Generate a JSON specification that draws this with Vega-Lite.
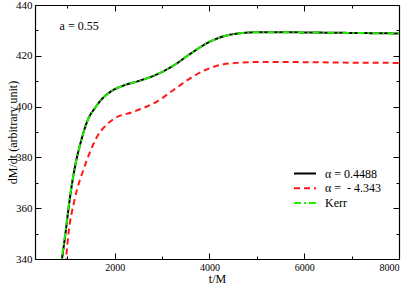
{
  "$schema": "https://vega.github.io/schema/vega-lite/v6.json",
  "width": 364,
  "height": 254,
  "autosize": {"type": "none"},
  "padding": {"left": 35, "top": 5, "right": 10, "bottom": 25},
  "background": "white",
  "config": {
    "view": {"stroke": null},
    "font": "Liberation Serif",
    "axis": {
      "domainColor": "#000000",
      "domainWidth": 1.2,
      "tickColor": "#000000",
      "tickWidth": 1,
      "labelColor": "#000000",
      "titleColor": "#000000",
      "labelFont": "Liberation Serif",
      "titleFont": "Liberation Serif",
      "titleFontWeight": "normal",
      "grid": false
    }
  },
  "datasets": {
    "curves": [
      {"series": "α = 0.4488", "t": 810, "v": 330},
      {"series": "α = 0.4488", "t": 889, "v": 340},
      {"series": "α = 0.4488", "t": 962, "v": 350},
      {"series": "α = 0.4488", "t": 1045, "v": 362.5},
      {"series": "α = 0.4488", "t": 1160, "v": 376},
      {"series": "α = 0.4488", "t": 1285, "v": 386},
      {"series": "α = 0.4488", "t": 1451, "v": 395.5},
      {"series": "α = 0.4488", "t": 1580, "v": 399.3},
      {"series": "α = 0.4488", "t": 1700, "v": 402.3},
      {"series": "α = 0.4488", "t": 1909, "v": 405.8},
      {"series": "α = 0.4488", "t": 2190, "v": 408.3},
      {"series": "α = 0.4488", "t": 2543, "v": 410.3},
      {"series": "α = 0.4488", "t": 2895, "v": 412.7},
      {"series": "α = 0.4488", "t": 3246, "v": 416.2},
      {"series": "α = 0.4488", "t": 3599, "v": 420.8},
      {"series": "α = 0.4488", "t": 3951, "v": 425.0},
      {"series": "α = 0.4488", "t": 4302, "v": 427.7},
      {"series": "α = 0.4488", "t": 4655, "v": 428.9},
      {"series": "α = 0.4488", "t": 5077, "v": 429.3},
      {"series": "α = 0.4488", "t": 5500, "v": 429.3},
      {"series": "α = 0.4488", "t": 6000, "v": 429.2},
      {"series": "α = 0.4488", "t": 7000, "v": 429.0},
      {"series": "α = 0.4488", "t": 8000, "v": 428.8},
      {"series": "α = \u00a0- 4.343", "t": 925, "v": 330},
      {"series": "α = \u00a0- 4.343", "t": 974, "v": 340},
      {"series": "α = \u00a0- 4.343", "t": 1028, "v": 350.2},
      {"series": "α = \u00a0- 4.343", "t": 1155, "v": 363.3},
      {"series": "α = \u00a0- 4.343", "t": 1366, "v": 376.4},
      {"series": "α = \u00a0- 4.343", "t": 1500, "v": 383},
      {"series": "α = \u00a0- 4.343", "t": 1640, "v": 388.5},
      {"series": "α = \u00a0- 4.343", "t": 1800, "v": 392.3},
      {"series": "α = \u00a0- 4.343", "t": 1979, "v": 395.1},
      {"series": "α = \u00a0- 4.343", "t": 2401, "v": 398},
      {"series": "α = \u00a0- 4.343", "t": 2895, "v": 402},
      {"series": "α = \u00a0- 4.343", "t": 3246, "v": 406.6},
      {"series": "α = \u00a0- 4.343", "t": 3599, "v": 411.2},
      {"series": "α = \u00a0- 4.343", "t": 3951, "v": 414.7},
      {"series": "α = \u00a0- 4.343", "t": 4302, "v": 416.7},
      {"series": "α = \u00a0- 4.343", "t": 4655, "v": 417.3},
      {"series": "α = \u00a0- 4.343", "t": 5077, "v": 417.6},
      {"series": "α = \u00a0- 4.343", "t": 5500, "v": 417.6},
      {"series": "α = \u00a0- 4.343", "t": 6000, "v": 417.5},
      {"series": "α = \u00a0- 4.343", "t": 7000, "v": 417.3},
      {"series": "α = \u00a0- 4.343", "t": 8000, "v": 417.2},
      {"series": "Kerr", "t": 800, "v": 330},
      {"series": "Kerr", "t": 882, "v": 340},
      {"series": "Kerr", "t": 958, "v": 350},
      {"series": "Kerr", "t": 1043, "v": 362.5},
      {"series": "Kerr", "t": 1160, "v": 376},
      {"series": "Kerr", "t": 1285, "v": 386},
      {"series": "Kerr", "t": 1451, "v": 395.5},
      {"series": "Kerr", "t": 1580, "v": 399.3},
      {"series": "Kerr", "t": 1700, "v": 402.3},
      {"series": "Kerr", "t": 1909, "v": 405.8},
      {"series": "Kerr", "t": 2190, "v": 408.3},
      {"series": "Kerr", "t": 2543, "v": 410.3},
      {"series": "Kerr", "t": 2895, "v": 412.7},
      {"series": "Kerr", "t": 3246, "v": 416.2},
      {"series": "Kerr", "t": 3599, "v": 420.8},
      {"series": "Kerr", "t": 3951, "v": 425.0},
      {"series": "Kerr", "t": 4302, "v": 427.7},
      {"series": "Kerr", "t": 4655, "v": 428.9},
      {"series": "Kerr", "t": 5077, "v": 429.3},
      {"series": "Kerr", "t": 5500, "v": 429.3},
      {"series": "Kerr", "t": 6000, "v": 429.2},
      {"series": "Kerr", "t": 7000, "v": 429.0},
      {"series": "Kerr", "t": 8000, "v": 428.8}
    ],
    "note": [{"t": 838, "v": 431.7, "label": "a = 0.55"}]
  },
  "layer": [
    {
      "data": {"name": "curves"},
      "mark": {"type": "line", "clip": true, "interpolate": "monotone", "strokeWidth": 2},
      "encoding": {
        "x": {
          "field": "t", "type": "quantitative",
          "scale": {"domain": [320, 8000], "nice": false, "zero": false},
          "axis": {
            "orient": "bottom",
            "values": [1000, 2000, 3000, 4000, 5000, 6000, 7000, 8000],
            "format": "d",
            "labelExpr": "datum.value % 2000 === 0 ? datum.label : ''",
            "tickSize": {"condition": {"test": "datum.value % 2000 === 0", "value": -6}, "value": -3},
            "labelPadding": 9,
            "labelFontSize": 10,
            "title": "t/M",
            "titleFontSize": 12,
            "titlePadding": 1
          }
        },
        "y": {
          "field": "v", "type": "quantitative",
          "scale": {"domain": [340, 440], "nice": false, "zero": false},
          "axis": {
            "orient": "left",
            "values": [340, 350, 360, 370, 380, 390, 400, 410, 420, 430, 440],
            "labelExpr": "datum.value % 20 === 0 ? datum.label : ''",
            "tickSize": {"condition": {"test": "datum.value % 20 === 0", "value": -6}, "value": -3},
            "labelPadding": 9,
            "labelFontSize": 11,
            "title": "dM/dt (arbitrary unit)",
            "titleFontSize": 12,
            "titlePadding": -4
          }
        },
        "color": {
          "field": "series", "type": "nominal",
          "scale": {"domain": ["α = 0.4488", "α = \u00a0- 4.343", "Kerr"], "range": ["#000000", "#ff1a1a", "#22ee00"]},
          "legend": {
            "orient": "none", "legendX": 263.5, "legendY": 162, "title": null,
            "symbolType": "M-2,0H2", "symbolSize": 121, "symbolStrokeWidth": 2,
            "labelFont": "Liberation Serif", "labelFontSize": 12, "labelColor": "#000000",
            "labelOffset": 13.5, "rowPadding": 1.7, "padding": 0
          }
        },
        "strokeDash": {
          "field": "series", "type": "nominal",
          "scale": {"domain": ["α = 0.4488", "α = \u00a0- 4.343", "Kerr"], "range": [[1, 0], [6, 4], [7, 3, 2, 3]]},
          "legend": {
            "orient": "none", "legendX": 263.5, "legendY": 162, "title": null,
            "symbolType": "M-2,0H2", "symbolSize": 121, "symbolStrokeWidth": 2,
            "labelFont": "Liberation Serif", "labelFontSize": 12, "labelColor": "#000000",
            "labelOffset": 13.5, "rowPadding": 1.7, "padding": 0
          }
        }
      }
    },
    {
      "data": {"name": "curves"},
      "mark": {"type": "line", "clip": true, "opacity": 0},
      "encoding": {
        "x": {
          "field": "t", "type": "quantitative",
          "axis": {
            "orient": "top",
            "values": [1000, 2000, 3000, 4000, 5000, 6000, 7000, 8000],
            "labels": false,
            "tickSize": {"condition": {"test": "datum.value % 2000 === 0", "value": -6}, "value": -3},
            "title": null
          }
        },
        "y": {
          "field": "v", "type": "quantitative",
          "axis": {
            "orient": "right",
            "values": [340, 350, 360, 370, 380, 390, 400, 410, 420, 430, 440],
            "labels": false,
            "tickSize": {"condition": {"test": "datum.value % 20 === 0", "value": -6}, "value": -3},
            "title": null
          }
        }
      }
    },
    {
      "data": {"name": "note"},
      "mark": {"type": "text", "align": "left", "baseline": "middle", "fontSize": 12, "font": "Liberation Serif", "color": "#000000"},
      "encoding": {
        "x": {"field": "t", "type": "quantitative", "axis": null},
        "y": {"field": "v", "type": "quantitative", "axis": null},
        "text": {"field": "label"}
      }
    }
  ],
  "resolve": {"axis": {"x": "independent", "y": "independent"}}
}
